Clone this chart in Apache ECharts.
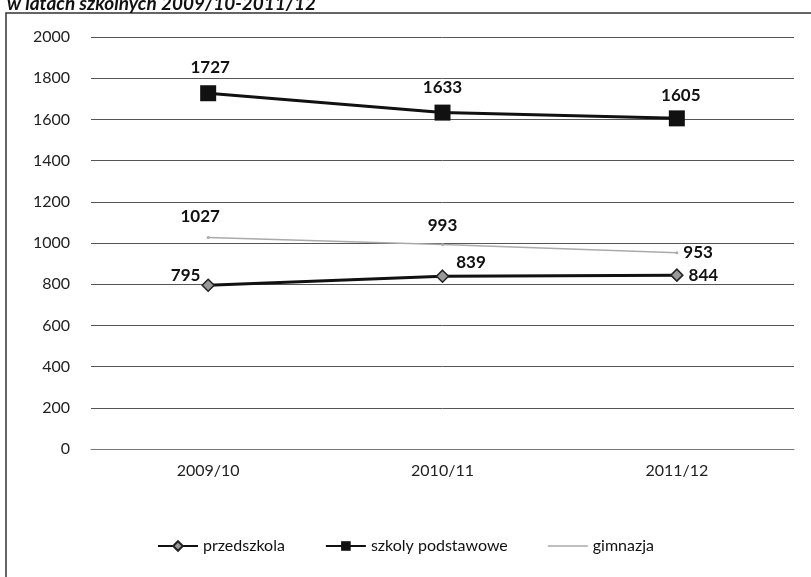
<!DOCTYPE html>
<html>
<head>
<meta charset="utf-8">
<script src="https://cdn.jsdelivr.net/npm/echarts@6/dist/echarts.min.js"></script>
<style>
  html, body { margin: 0; padding: 0; background: #fff; }
  #chart { width: 811px; height: 577px; }
</style>
</head>
<body>
<div id="chart"></div>
<script>
const years = ['2009/10', '2010/11', '2011/12']
const przedszkola = [795, 839, 844]
const szkolyPodstawowe = [1727, 1633, 1605]
const gimnazja = [1027, 993, 953]

const font = 'Lato, "Open Sans", sans-serif'
let myChart = echarts.init(document.getElementById('chart'))

// per-point label helper
const lbl = (pos, off) => ({
  show: true, position: pos, offset: off || [0, 0],
  fontFamily: font, fontWeight: 'bold', fontSize: 17, color: '#111'
})

myChart.setOption({
  animation: false,
  title: {
    text: 'w latach szkolnych 2009/10-2011/12',
    left: 2, top: -11,
    textStyle: { fontFamily: font, fontStyle: 'italic', fontWeight: 'bold', fontSize: 19, color: '#111' }
  },
  graphic: [{
    type: 'polyline',
    shape: { points: [[6, 577], [6, 13], [811, 13]] },
    style: { stroke: '#333', lineWidth: 1.5, fill: null }
  }],
  grid: { left: 91, right: 17, top: 37, bottom: 128 },
  legend: {
    bottom: 18, left: 'center', itemGap: 40, itemWidth: 40, itemHeight: 12,
    textStyle: { fontFamily: font, fontSize: 16, color: '#111' },
    data: ['przedszkola', 'szkoly podstawowe', { name: 'gimnazja', icon: 'path://M0,5.3 L40,5.3 L40,6.7 L0,6.7 Z' }]
  },
  xAxis: {
    type: 'category', data: years, boundaryGap: true,
    axisLine: { lineStyle: { color: '#777' } },
    axisTick: { show: false },
    axisLabel: { fontFamily: font, fontSize: 16, color: '#222', margin: 14 }
  },
  yAxis: {
    type: 'value', min: 0, max: 2000, interval: 200,
    axisLine: { show: false },
    axisTick: { show: false },
    axisLabel: { fontFamily: font, fontSize: 16, color: '#222', margin: 21, formatter: v => String(v) },
    splitLine: { lineStyle: { color: '#555', width: 1 } }
  },
  series: [
    {
      name: 'przedszkola', type: 'line',
      symbol: 'diamond', symbolSize: 12,
      lineStyle: { color: '#111', width: 3 },
      itemStyle: { color: '#999', borderColor: '#222', borderWidth: 1.5 },
      data: [
        { value: przedszkola[0], label: lbl('left', [4, -10]) },
        { value: przedszkola[1], label: lbl('right', [2, -14]) },
        { value: przedszkola[2], label: lbl('right', [0, 0]) }
      ]
    },
    {
      name: 'szkoly podstawowe', type: 'line',
      symbol: 'rect', symbolSize: 16,
      lineStyle: { color: '#111', width: 3 },
      itemStyle: { color: '#111' },
      data: [
        { value: szkolyPodstawowe[0], label: lbl('top', [2, -4]) },
        { value: szkolyPodstawowe[1], label: lbl('top', [0, -4]) },
        { value: szkolyPodstawowe[2], label: lbl('top', [4, -1]) }
      ]
    },
    {
      name: 'gimnazja', type: 'line',
      symbol: 'circle', symbolSize: 3,
      lineStyle: { color: '#aaa', width: 1.5 },
      itemStyle: { color: '#aaa' },
      data: [
        { value: gimnazja[0], label: lbl('top', [-8, -6]) },
        { value: gimnazja[1], label: lbl('top', [0, -4]) },
        { value: gimnazja[2], label: lbl('right', [0, 0]) }
      ]
    }
  ]
})
</script>
</body>
</html>
